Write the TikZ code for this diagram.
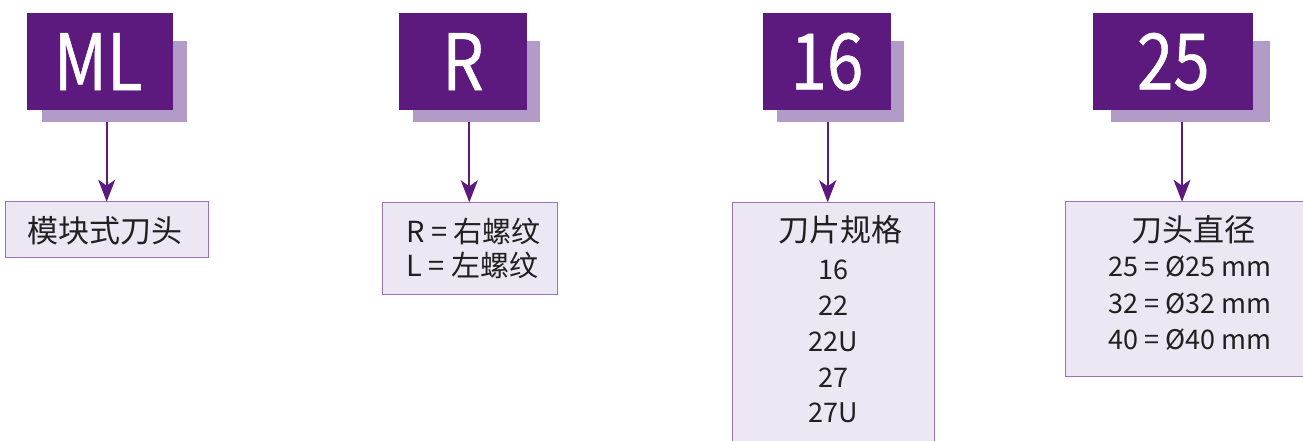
\documentclass[tikz,border=0pt]{standalone}
\usepackage{fontspec}
\setmainfont{Noto Sans CJK SC}
\newfontfamily\bigfont[FakeStretch=0.84,FakeBold=0.6]{Noto Sans CJK SC}
\usetikzlibrary{arrows.meta}
\definecolor{dpurple}{HTML}{5C1A7E}
\definecolor{spurple}{HTML}{B39BC7}
\definecolor{lfill}{HTML}{EDE6F3}
\definecolor{lborder}{HTML}{9C70BA}
\definecolor{txt}{HTML}{231F20}
\begin{document}
\begin{tikzpicture}[x=1pt,y=-1pt,
  codebox/.style={fill=dpurple, draw=none, inner sep=0pt, outer sep=0pt},
  codetext/.style={text=white, inner sep=0pt, font=\bigfont\fontsize{78}{78}\selectfont},
  shadowbox/.style={fill=spurple, draw=none, inner sep=0pt, outer sep=0pt},
  labelbox/.style={fill=lfill, draw=lborder, line width=1.3pt, inner sep=0pt, outer sep=0pt},
  cjk/.style={text=txt, inner sep=0pt, font=\fontsize{31}{31}\selectfont},
  lat/.style={text=txt, inner sep=0pt, font=\fontsize{27}{27}\selectfont},
  arr/.style={draw=dpurple, line width=2pt, -{Stealth[length=22pt, width=17pt, inset=6pt]}}
]
\useasboundingbox (0,0) rectangle (1303,441);
\clip (0,0) rectangle (1303,441);
% shadows
\node[shadowbox, minimum width=145pt, minimum height=81pt, anchor=north west] (shML) at (42.3,40.7) {};
\node[shadowbox, minimum width=127.6pt, minimum height=81pt, anchor=north west] (shR) at (412.7,40.7) {};
\node[shadowbox, minimum width=127.3pt, minimum height=81pt, anchor=north west] (sh16) at (776.7,40.7) {};
\node[shadowbox, minimum width=159.3pt, minimum height=81pt, anchor=north west] (sh25) at (1110.7,40.7) {};
% main code boxes
\node[codebox, minimum width=146pt, minimum height=96.7pt, anchor=north west] (cML) at (26.7,13.3) {};
\node[codetext] (tML) at ([xshift=-1.5pt]cML.center) {ML};
\node[codebox, minimum width=128pt, minimum height=96.7pt, anchor=north west] (cR) at (399,13.3) {};
\node[codetext] (tR) at (cR.center) {R};
\node[codebox, minimum width=127.4pt, minimum height=96.7pt, anchor=north west] (c16) at (763.3,13.3) {};
\node[codetext] (t16) at (c16.center) {16};
\node[codebox, minimum width=160pt, minimum height=96.7pt, anchor=north west] (c25) at (1093.3,13.3) {};
\node[codetext] (t25) at (c25.center) {25};
% label boxes
\node[labelbox, minimum width=202.6pt, minimum height=55.6pt, anchor=north west] (lML) at (5.7,201.7) {};
\node[labelbox, minimum width=174.5pt, minimum height=92pt, anchor=north west] (lR) at (382.8,202.3) {};
\node[labelbox, minimum width=202pt, minimum height=260pt, anchor=north west] (l16) at (732.3,202.3) {};
\node[labelbox, minimum width=260pt, minimum height=175pt, anchor=north west] (l25) at (1065.7,201.7) {};
% texts
\node[cjk] (tx1) at (105,231) {模块式刀头};
\node[lat, font=\fontsize{29}{29}\selectfont, anchor=west] (tx2) at (406,231.7) {R = 右螺纹};
\node[lat, font=\fontsize{29}{29}\selectfont, anchor=west] (tx3) at (406,265) {L = 左螺纹};
\node[cjk] (tx4) at (840,230) {刀片规格};
\node[lat] (tx5) at (833,270) {16};
\node[lat] (tx6) at (833,306) {22};
\node[lat] (tx7) at (833,342) {22U};
\node[lat] (tx8) at (833,378) {27};
\node[lat] (tx9) at (833,413) {27U};
\node[cjk] (tx10) at (1193.3,230) {刀头直径};
\node[lat] (tx11) at (1190,266.7) {25 = Ø25 mm};
\node[lat] (tx12) at (1190,303.3) {32 = Ø32 mm};
\node[lat] (tx13) at (1190,340) {40 = Ø40 mm};
% arrows
\coordinate (a1) at (106.7,0);
\coordinate (a2) at (469.3,0);
\coordinate (a3) at (827.7,0);
\coordinate (a4) at (1182,0);
\draw[arr] (shML.south -| a1) -- (lML.north -| a1);
\draw[arr] (shR.south -| a2) -- (lR.north -| a2);
\draw[arr] (sh16.south -| a3) -- (l16.north -| a3);
\draw[arr] (sh25.south -| a4) -- (l25.north -| a4);
\end{tikzpicture}
\end{document}
